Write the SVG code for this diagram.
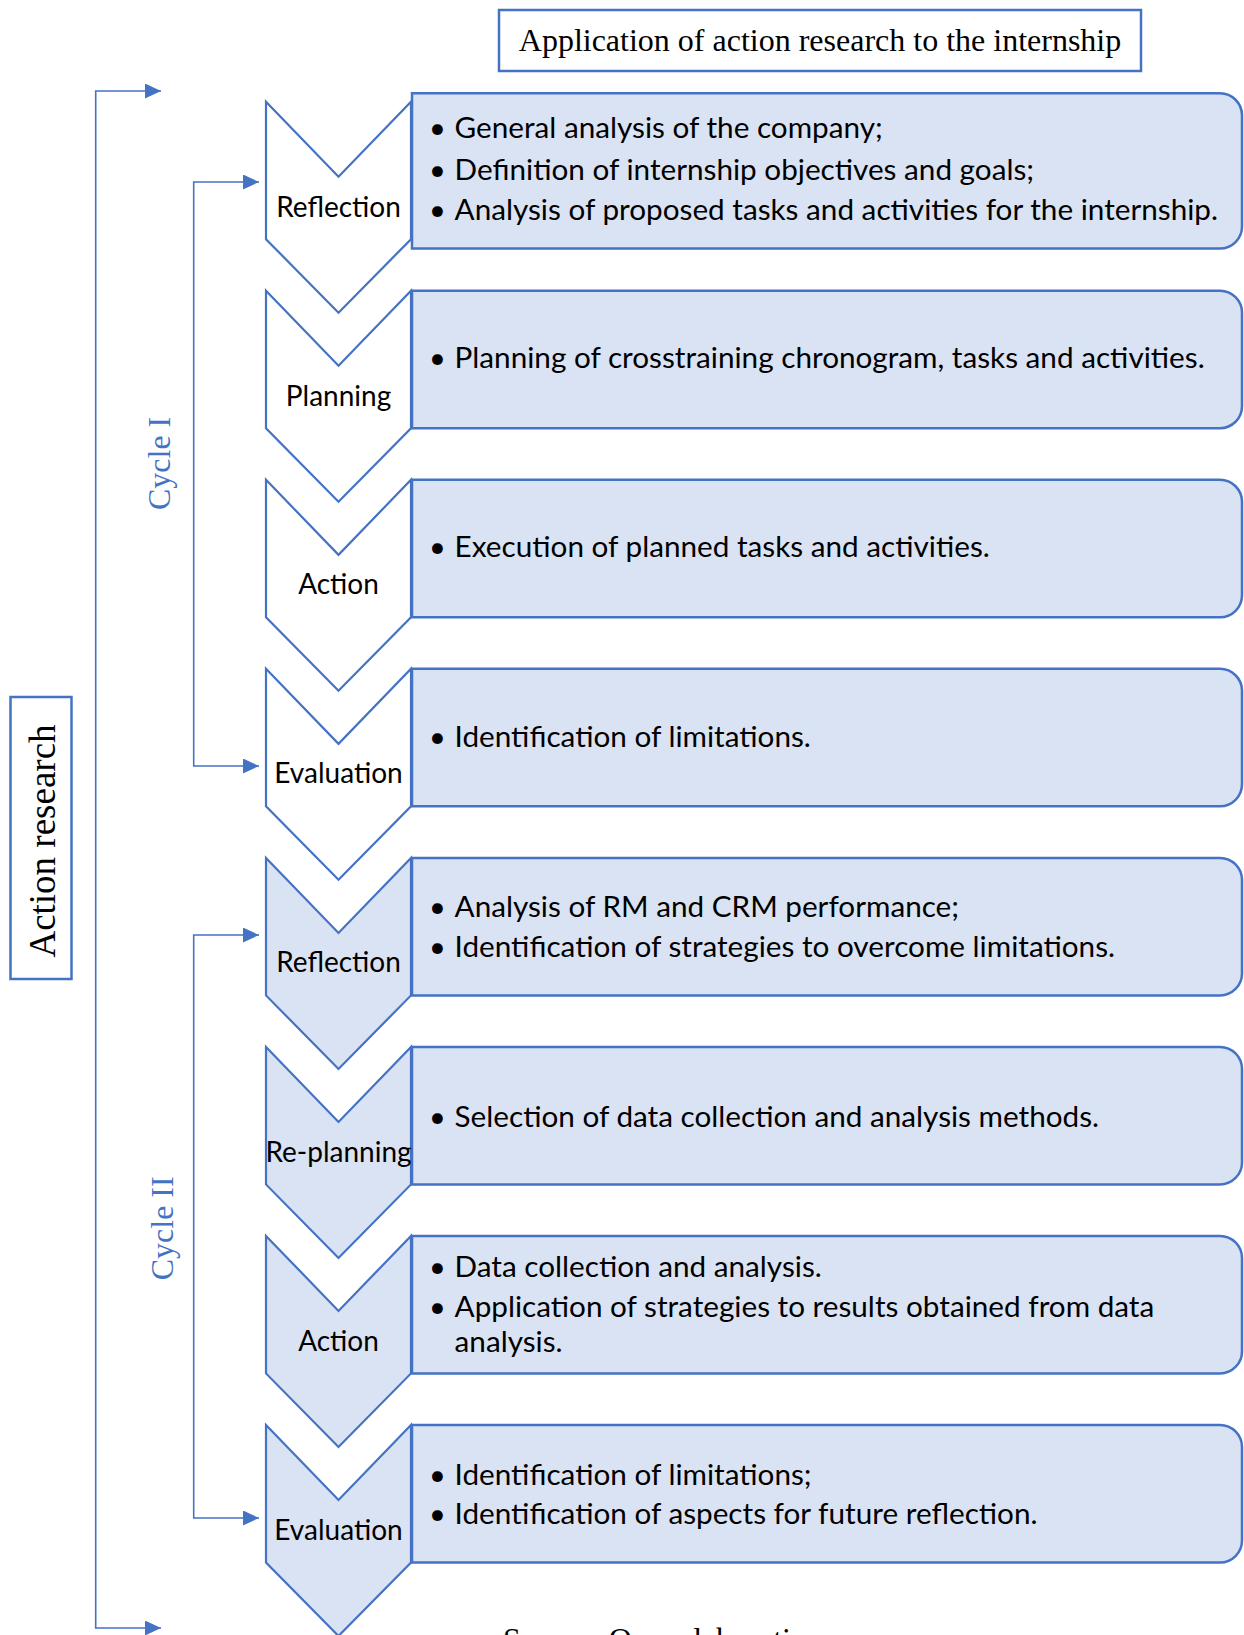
<svg xmlns="http://www.w3.org/2000/svg" width="1244" height="1635" viewBox="0 0 1244 1635">
  <style>
    .chev { stroke: #4472C4; stroke-width: 2.2; stroke-linejoin: miter; }
    .c1 { fill: #FFFFFF; }
    .c2 { fill: #DAE3F3; }
    .box { fill: #DAE3F3; stroke: #4472C4; stroke-width: 2.5; }
    .frame { fill: #FFFFFF; stroke: #4472C4; stroke-width: 2.5; }
    .link { fill: none; stroke: #4472C4; stroke-width: 1.6; marker-start: url(#head-start); marker-end: url(#head); }
    .lbl { font-family: Lato, "Noto Sans", sans-serif; font-size: 28px; fill: #000; text-anchor: middle; }
    .txt { font-family: Lato, "Noto Sans", sans-serif; font-size: 29.7px; fill: #000; }
    .dot { font-family: Lato, "Noto Sans", sans-serif; font-size: 29px; fill: #000; text-anchor: middle; }
    .serif { font-family: "Liberation Serif", "Times New Roman", serif; }
  </style>
  <defs>
    <marker id="head" viewBox="0 0 16 15" refX="16" refY="7.5" markerWidth="16" markerHeight="15" markerUnits="userSpaceOnUse" orient="auto">
      <path d="M0,0 L16,7.5 L0,15 Z" fill="#4472C4"/>
    </marker>
    <marker id="head-start" viewBox="0 0 16 15" refX="16" refY="7.5" markerWidth="16" markerHeight="15" markerUnits="userSpaceOnUse" orient="auto-start-reverse">
      <path d="M0,0 L16,7.5 L0,15 Z" fill="#4472C4"/>
    </marker>
  </defs>

  <!-- title -->
  <g id="title">
    <rect class="frame" x="499" y="10" width="642" height="61"/>
    <text class="serif" x="820" y="51" font-size="32" text-anchor="middle" fill="#000">Application of action research to the internship</text>
  </g>

  <!-- side label -->
  <g id="action-research">
    <rect class="frame" x="10.5" y="697" width="61" height="282"/>
    <text class="serif" transform="translate(55,841) rotate(-90)" font-size="37" text-anchor="middle" fill="#000">Action research</text>
  </g>

  <!-- cycle brackets -->
  <g id="connectors">
    <path class="link" d="M161,91 H95.7 V1628 H161"/>
    <path class="link" d="M259,182 H193.7 V766 H259"/>
    <path class="link" d="M259,935 H193.7 V1518 H259"/>
  </g>

  <g id="cycle-1-label">
    <text class="serif" transform="translate(170,463.4) rotate(-90)" font-size="32" text-anchor="middle" fill="#4472C4">Cycle I</text>
  </g>
  <g id="cycle-2-label">
    <text class="serif" transform="translate(173,1228.3) rotate(-90)" font-size="32" text-anchor="middle" fill="#4472C4">Cycle II</text>
  </g>

  <!-- Cycle I -->
  <g id="reflection-1">
    <polygon class="chev c1" points="266,101.7 338.5,176.7 411,101.7 411,239.2 338.5,312.7 266,239.2"/>
    <path class="box" d="M412,93.3 H1220 A22,22 0 0 1 1242,115.3 V226.5 A22,22 0 0 1 1220,248.5 H412 Z"/>
    <text class="lbl" x="338.5" y="216.5">Reflection</text>
    <text class="dot" x="437.5" y="138">•</text>
    <text class="txt" x="454.6" y="138">General analysis of the company;</text>
    <text class="dot" x="437.5" y="179.5">•</text>
    <text class="txt" x="454.6" y="179.5">Definition of internship objectives and goals;</text>
    <text class="dot" x="437.5" y="220">•</text>
    <text class="txt" x="454.6" y="220">Analysis of proposed tasks and activities for the internship.</text>
  </g>

  <g id="planning">
    <polygon class="chev c1" points="266,290.7 338.5,365.7 411,290.7 411,428.2 338.5,501.7 266,428.2"/>
    <path class="box" d="M412,290.7 H1220 A22,22 0 0 1 1242,312.7 V406.2 A22,22 0 0 1 1220,428.2 H412 Z"/>
    <text class="lbl" x="338.5" y="405.5">Planning</text>
    <text class="dot" x="437.5" y="368.3">•</text>
    <text class="txt" x="454.6" y="368.3">Planning of crosstraining chronogram, tasks and activities.</text>
  </g>

  <g id="action-1">
    <polygon class="chev c1" points="266,479.8 338.5,554.8 411,479.8 411,617.3 338.5,690.8 266,617.3"/>
    <path class="box" d="M412,479.8 H1220 A22,22 0 0 1 1242,501.8 V595.3 A22,22 0 0 1 1220,617.3 H412 Z"/>
    <text class="lbl" x="338.5" y="594">Action</text>
    <text class="dot" x="437.5" y="557">•</text>
    <text class="txt" x="454.6" y="557">Execution of planned tasks and activities.</text>
  </g>

  <g id="evaluation-1">
    <polygon class="chev c1" points="266,668.8 338.5,743.8 411,668.8 411,806.3 338.5,879.8 266,806.3"/>
    <path class="box" d="M412,668.8 H1220 A22,22 0 0 1 1242,690.8 V784.3 A22,22 0 0 1 1220,806.3 H412 Z"/>
    <text class="lbl" x="338.5" y="783.3">Evaluation</text>
    <text class="dot" x="437.5" y="746.5">•</text>
    <text class="txt" x="454.6" y="746.5">Identification of limitations.</text>
  </g>

  <!-- Cycle II -->
  <g id="reflection-2">
    <polygon class="chev c2" points="266,857.9 338.5,932.9 411,857.9 411,995.4 338.5,1068.9 266,995.4"/>
    <path class="box" d="M412,857.9 H1220 A22,22 0 0 1 1242,879.9 V973.4 A22,22 0 0 1 1220,995.4 H412 Z"/>
    <text class="lbl" x="338.5" y="971.7">Reflection</text>
    <text class="dot" x="437.5" y="916.5">•</text>
    <text class="txt" x="454.6" y="916.5">Analysis of RM and CRM performance;</text>
    <text class="dot" x="437.5" y="956.5">•</text>
    <text class="txt" x="454.6" y="956.5">Identification of strategies to overcome limitations.</text>
  </g>

  <g id="re-planning">
    <polygon class="chev c2" points="266,1046.9 338.5,1121.9 411,1046.9 411,1184.4 338.5,1257.9 266,1184.4"/>
    <path class="box" d="M412,1046.9 H1220 A22,22 0 0 1 1242,1068.9 V1162.4 A22,22 0 0 1 1220,1184.4 H412 Z"/>
    <text class="lbl" x="338.5" y="1162.3">Re-planning</text>
    <text class="dot" x="437.5" y="1126.5">•</text>
    <text class="txt" x="454.6" y="1126.5">Selection of data collection and analysis methods.</text>
  </g>

  <g id="action-2">
    <polygon class="chev c2" points="266,1235.9 338.5,1310.9 411,1235.9 411,1373.4 338.5,1446.9 266,1373.4"/>
    <path class="box" d="M412,1235.9 H1220 A22,22 0 0 1 1242,1257.9 V1351.4 A22,22 0 0 1 1220,1373.4 H412 Z"/>
    <text class="lbl" x="338.5" y="1350.5">Action</text>
    <text class="dot" x="437.5" y="1276.7">•</text>
    <text class="txt" x="454.6" y="1276.7">Data collection and analysis.</text>
    <text class="dot" x="437.5" y="1316.7">•</text>
    <text class="txt" x="454.6" y="1316.7">Application of strategies to results obtained from data</text>
    <text class="txt" x="454.6" y="1351.7">analysis.</text>
  </g>

  <g id="evaluation-2">
    <polygon class="chev c2" points="266,1425 338.5,1500 411,1425 411,1562.5 338.5,1636 266,1562.5"/>
    <path class="box" d="M412,1425 H1220 A22,22 0 0 1 1242,1447 V1540.5 A22,22 0 0 1 1220,1562.5 H412 Z"/>
    <text class="lbl" x="338.5" y="1540">Evaluation</text>
    <text class="dot" x="437.5" y="1484.5">•</text>
    <text class="txt" x="454.6" y="1484.5">Identification of limitations;</text>
    <text class="dot" x="437.5" y="1523.5">•</text>
    <text class="txt" x="454.6" y="1523.5">Identification of aspects for future reflection.</text>
  </g>

  <!-- source note -->
  <text class="serif" x="503" y="1650" font-size="32" fill="#000">Source: Own elaboration</text>
</svg>
